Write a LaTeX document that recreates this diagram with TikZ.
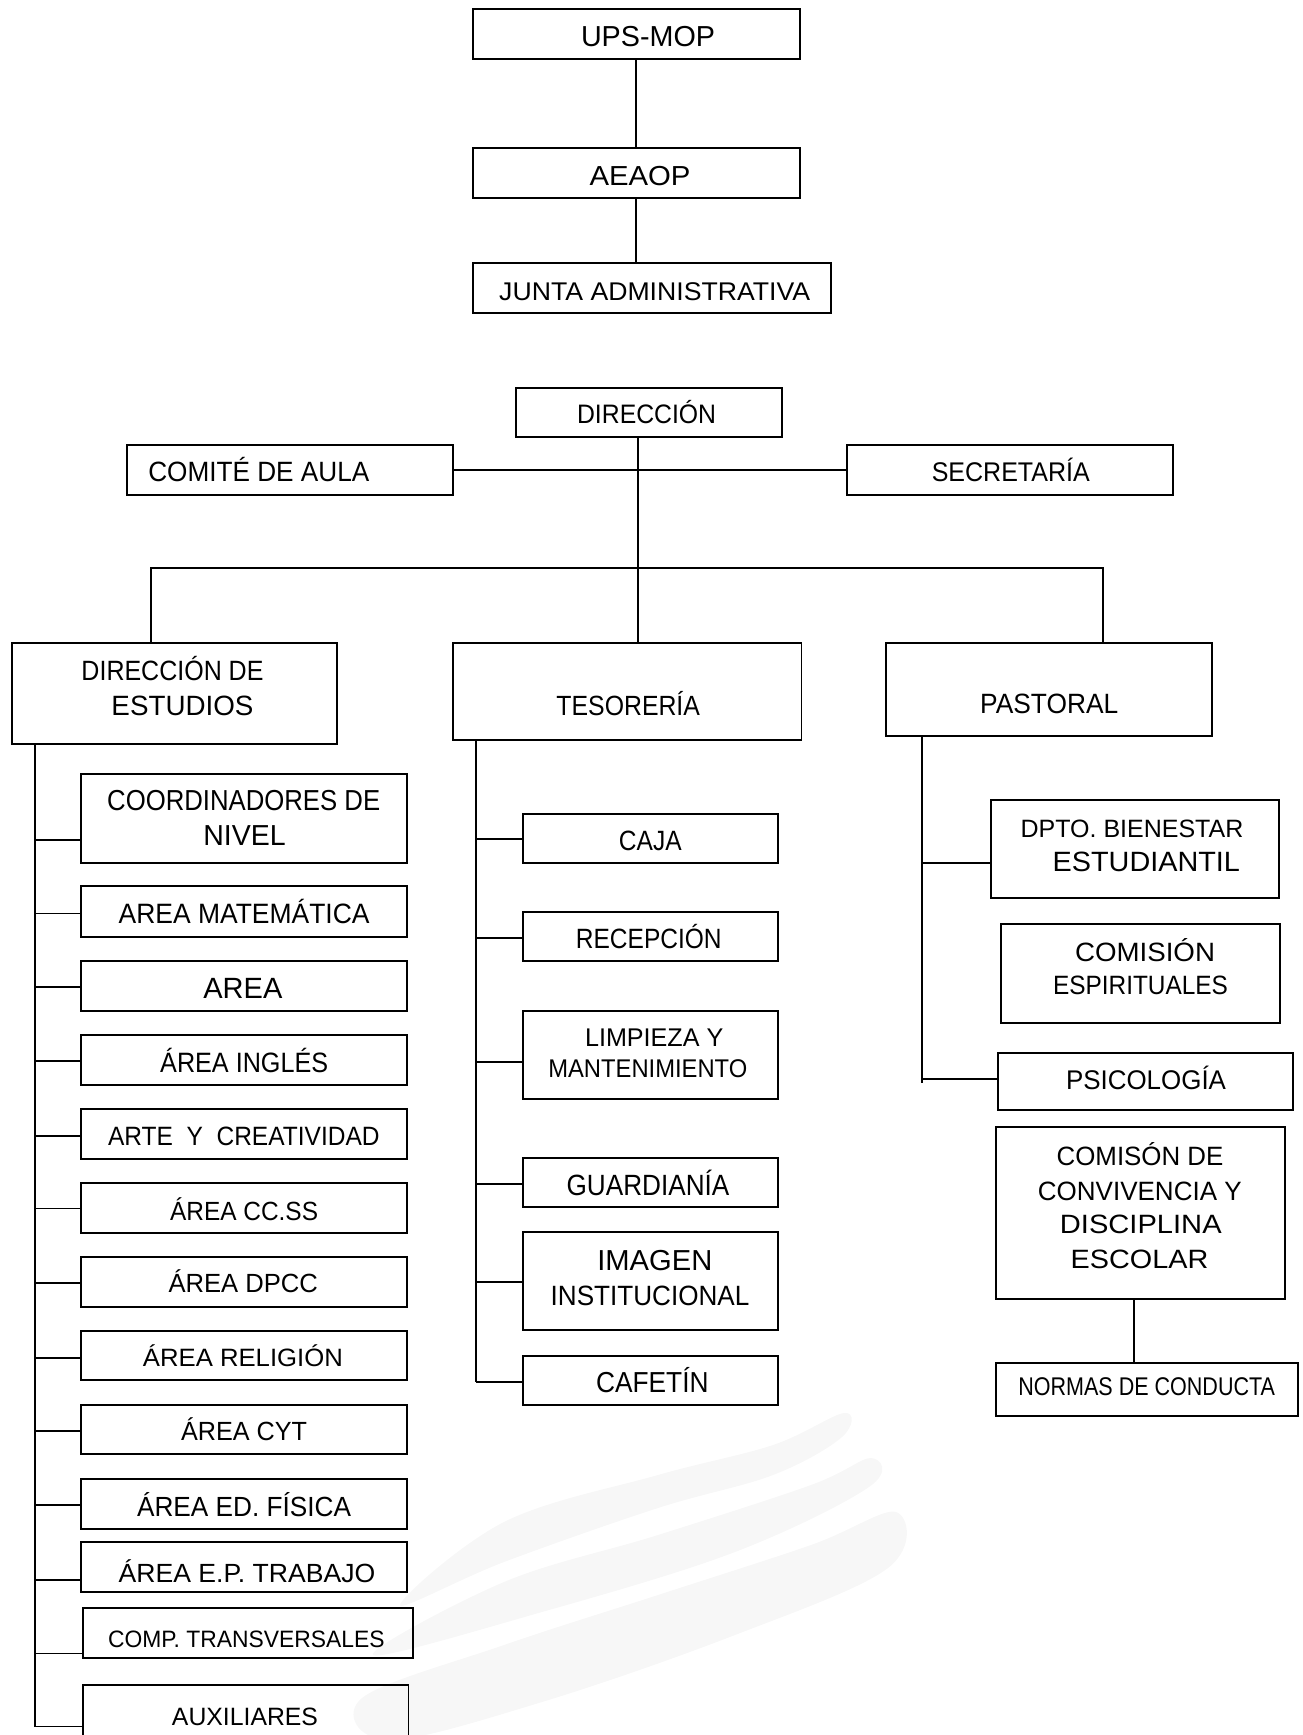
\documentclass[tikz,border=0pt]{standalone}
\usepackage{fontspec}
\setmainfont{Liberation Sans}
\usepackage{graphicx}
\tikzset{
  bxs/.style={draw=black, line width=1.8pt, rectangle, inner sep=0pt},
  ln/.style={draw=black, line width=1.8pt},
  tx/.style={anchor=base, inner sep=0pt, text=black},
  wm/.style={fill=black!3, draw=none}
}
\newcommand\bx[5]{\node[bxs,minimum width={(#4-#2)*1pt},minimum height={(#5-#3)*1pt}] (#1) at ({(#2+#4)/2},{(#3+#5)/2}) {};}
\newcommand\tl[6]{\node[tx,font=\fontsize{#4pt}{#4pt}\selectfont] (#1) at (#2,#3) {\resizebox{#5pt}{\height}{#6}};}
\newcommand\br[3]{\coordinate (#2-b) at ([yshift=#3pt]#2.west); \draw[ln] (#1 |- #2-b) -- (#2-b);}
\begin{document}
\begin{tikzpicture}[x=1pt,y=-1pt]
\useasboundingbox (0,0) rectangle (1302,1735);
% watermark
\fill[wm] plot[smooth cycle, tension=0.6] coordinates {(400,1605) (504,1522) (658,1475) (773,1445) (844,1413) (842,1437) (773,1475) (658,1508) (504,1562)};
\fill[wm] plot[smooth cycle, tension=0.6] coordinates {(373,1655) (504,1582) (658,1535) (811,1485) (871,1458) (869,1487) (735,1552) (542,1612)};
\fill[wm] plot[smooth cycle, tension=0.6] coordinates {(362,1698) (504,1645) (658,1595) (811,1545) (896,1512) (888,1568) (735,1635) (542,1702) (388,1740)};

% top block
\bx{ups}{472.7}{9}{800}{59}
\bx{aeaop}{472.7}{147.7}{800}{198.3}
\bx{junta}{472.7}{262.7}{830.7}{312.7}
\tl{t-ups}{648}{46.7}{28.9}{134}{UPS-MOP}
\tl{t-aea}{640}{185}{27.5}{101}{AEAOP}
\tl{t-jun}{654.7}{300}{25.6}{311}{JUNTA ADMINISTRATIVA}
\draw[ln] (ups.south) -- (aeaop.north);
\draw[ln] (aeaop.south) -- (aeaop.south |- junta.north);

% direction block
\bx{direccion}{515.7}{388.3}{782}{437.3}
\bx{comite}{127.3}{445}{452.7}{495}
\bx{secretaria}{847.3}{445}{1173.3}{495}
\tl{t-dir}{646.6}{423.5}{26.7}{139}{DIRECCIÓN}
\tl{t-com}{258.8}{481.7}{27.9}{221}{COMITÉ DE AULA}
\tl{t-sec}{1010.8}{481}{27}{158}{SECRETARÍA}
\draw[ln] (comite.east) -- (secretaria.west);

\bx{direstudios}{11.7}{643}{337}{744}
\bx{tesoreria}{452.7}{642.9}{801.5}{739.7}
\bx{pastoral}{886}{642.7}{1212}{735.7}
\tl{t-des1}{172.5}{680}{27.9}{182}{DIRECCIÓN DE}
\tl{t-des2}{182.5}{715}{27.9}{142}{ESTUDIOS}
\tl{t-tes}{628.2}{715}{27.8}{143.5}{TESORERÍA}
\tl{t-pas}{1049.2}{713.3}{27.9}{138}{PASTORAL}

\coordinate (tk) at (638,0);
\coordinate (bus) at (0,568.3);
\coordinate (lb) at (151,0);
\coordinate (rb) at (1102.7,0);
\draw[ln] (tk |- direccion.south) -- (tk |- tesoreria.north);
\draw[ln] (lb |- direstudios.north) -- (lb |- bus) -- (rb |- bus) -- (rb |- pastoral.north);

% left column
\bx{coord}{81}{774}{407}{863}
\bx{amat}{81}{886}{407}{937}
\bx{area}{81}{961}{407}{1011}
\bx{ingles}{81}{1035}{407}{1085}
\bx{arte}{81}{1109}{407}{1159}
\bx{ccss}{81}{1183}{407}{1233}
\bx{dpcc}{81}{1257}{407}{1307}
\bx{relig}{81}{1331}{407}{1380}
\bx{cyt}{81}{1405}{407}{1454}
\bx{fisica}{81}{1479}{407}{1529}
\bx{trabajo}{81}{1542}{407}{1592}
\bx{comp}{83}{1608}{412.7}{1658}
\bx{aux}{83}{1685}{408.5}{1750}
\tl{t-coo1}{243.7}{810.7}{28.9}{273}{COORDINADORES DE}
\tl{t-coo2}{244.5}{845}{28.9}{82.4}{NIVEL}
\tl{t-ama}{244.1}{923.3}{28}{251}{AREA MATEMÁTICA}
\tl{t-are}{242.9}{998}{29.3}{79}{AREA}
\tl{t-ing}{244.2}{1072.6}{28}{168}{ÁREA INGLÉS}
\tl{t-art}{243.8}{1145.3}{26.5}{271.5}{ARTE\ \ Y\ \ CREATIVIDAD}
\tl{t-ccs}{244.1}{1220.5}{26.3}{148}{ÁREA CC.SS}
\tl{t-dpc}{243.3}{1292.1}{26.3}{149.4}{ÁREA DPCC}
\tl{t-rel}{242.9}{1366.5}{25.1}{200}{ÁREA RELIGIÓN}
\tl{t-cyt}{244.1}{1440.5}{26.3}{126}{ÁREA CYT}
\tl{t-fis}{244.1}{1516.6}{27.7}{214}{ÁREA ED. FÍSICA}
\tl{t-tra}{247}{1582.1}{26.3}{256.6}{ÁREA E.P. TRABAJO}
\tl{t-cmp}{246.3}{1647}{23.7}{276.5}{COMP. TRANSVERSALES}
\tl{t-aux}{245}{1725}{25.1}{146}{AUXILIARES}

\coordinate (lv) at (35,0);
\br{lv}{coord}{-21.5}
\br{lv}{amat}{-2}
\br{lv}{area}{-1.3}
\br{lv}{ingles}{-1}
\br{lv}{arte}{-1.7}
\br{lv}{ccss}{-0.5}
\br{lv}{dpcc}{-0.6}
\br{lv}{relig}{-2.1}
\br{lv}{cyt}{-1.5}
\br{lv}{fisica}{-0.7}
\br{lv}{trabajo}{-13}
\br{lv}{comp}{-20.5}
\br{lv}{aux}{-9}
\draw[ln] (lv |- direstudios.south) -- (lv |- aux-b);

% middle column
\bx{caja}{522.7}{814}{778.3}{862.7}
\bx{recep}{522.7}{912.3}{778.3}{961}
\bx{limp}{522.7}{1010.7}{778.3}{1099.3}
\bx{guard}{522.7}{1158.3}{778.3}{1207.3}
\bx{imagen}{522.7}{1232.3}{778.3}{1330}
\bx{cafe}{522.7}{1355.7}{778.3}{1405}
\tl{t-caj}{650.3}{850}{27.9}{62.7}{CAJA}
\tl{t-rec}{648.8}{948.3}{27.9}{145.7}{RECEPCIÓN}
\tl{t-lim1}{654.2}{1046.7}{25.6}{138.3}{LIMPIEZA Y}
\tl{t-lim2}{647.8}{1077.7}{25.6}{199}{MANTENIMIENTO}
\tl{t-gua}{648}{1195}{29.3}{162.7}{GUARDIANÍA}
\tl{t-ima1}{654.8}{1270}{28.9}{115}{IMAGEN}
\tl{t-ima2}{650}{1305}{27.9}{198.7}{INSTITUCIONAL}
\tl{t-caf}{652.3}{1392.3}{28.9}{112.5}{CAFETÍN}

\coordinate (mv) at (475.7,0);
\br{mv}{caja}{-1}
\br{mv}{recep}{-1}
\br{mv}{limp}{-6.7}
\br{mv}{guard}{-1.2}
\br{mv}{imagen}{-1.2}
\br{mv}{cafe}{-1.3}
\draw[ln] (mv |- tesoreria.south) -- (mv |- cafe-b);

% right column
\bx{dpto}{991}{800}{1279.3}{897.7}
\bx{comesp}{1000.7}{924}{1280}{1022.7}
\bx{psic}{997.7}{1053}{1292.7}{1110}
\bx{comison}{996}{1127.3}{1285}{1299.3}
\bx{normas}{996}{1362.7}{1298.3}{1416}
\tl{t-dpt1}{1132}{837.3}{25.1}{222.7}{DPTO. BIENESTAR}
\tl{t-dpt2}{1146.3}{871.7}{27.9}{187.3}{ESTUDIANTIL}
\tl{t-ces1}{1145}{961.7}{26.5}{140}{COMISIÓN}
\tl{t-ces2}{1140.5}{994}{26.5}{175}{ESPIRITUALES}
\tl{t-psi}{1146}{1089.3}{27}{160}{PSICOLOGÍA}
\tl{t-cc1}{1140}{1165}{26.5}{166.7}{COMISÓN DE}
\tl{t-cc2}{1139.8}{1200}{26.5}{203.7}{CONVIVENCIA Y}
\tl{t-cc3}{1140.8}{1233.3}{26.5}{161.7}{DISCIPLINA}
\tl{t-cc4}{1139.5}{1268.3}{26.5}{137.6}{ESCOLAR}
\tl{t-nor}{1146.7}{1395}{25.6}{256.7}{NORMAS DE CONDUCTA}

\coordinate (rv) at (921.7,0);
\coordinate (rvend) at (921.7,1083.3);
\br{rv}{dpto}{-14.5}
\br{rv}{psic}{2.5}
\draw[ln] (rv |- pastoral.south) -- (rvend);
\coordinate (cn) at (1134,0);
\draw[ln] (cn |- comison.south) -- (cn |- normas.north);
\end{tikzpicture}
\end{document}
